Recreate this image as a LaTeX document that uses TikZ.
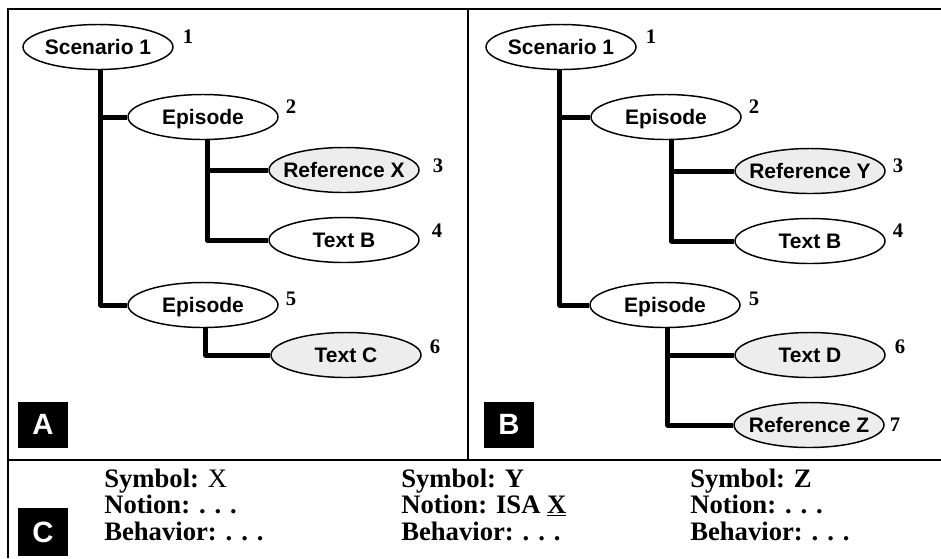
\documentclass[tikz,border=0pt]{standalone}
\usepackage{fontspec}
\setmainfont{Liberation Serif}
\setsansfont{Liberation Sans}
\usetikzlibrary{shapes.geometric}
\newdimen\pxu \pxu=0.75pt
% text of an ellipse node: zero width, so the ellipse keeps its fixed size
\newcommand\elltext[1]{\makebox[0pt]{#1}}
\tikzset{
  ell/.style={ellipse, draw, line width=1.1pt, fill=white,
    minimum width=150\pxu, minimum height=45\pxu, inner sep=0pt,
    font=\sffamily\bfseries\fontsize{15.75}{18}\selectfont,
    text height=11.3pt, text depth=0pt},
  grey/.style={fill=gray!14},
  num/.style={font=\bfseries\fontsize{15.5}{17}\selectfont, inner sep=0pt},
  conn/.style={line width=3.75pt, line join=round},
  frame/.style={line width=1.5pt},
  tag/.style={fill=black, text=white, inner sep=0pt,
    font=\sffamily\bfseries\fontsize{22}{22}\selectfont,
    minimum width=50\pxu, minimum height=46\pxu},
  info/.style={anchor=base west, inner sep=0pt,
    font=\bfseries\fontsize{20}{20}\selectfont},
}
\begin{document}
\begin{tikzpicture}[x=0.75pt, y=-0.75pt]
\useasboundingbox (0,0) rectangle (941,558);

% frame and dividers
\draw[frame] (8,558) -- (8,9) -- (941,9);
\draw[frame] (8,460) -- (941,460);
\draw[frame] (468,9) -- (468,460);

% ---- panel A ----
\node[ell] (a1) at (98,47) {\elltext{Scenario 1}};
\node[ell] (a2) at (203,117) {\elltext{Episode}};
\node[ell,grey] (a3) at (344,170) {\elltext{Reference X}};
\node[ell] (a4) at (344,240) {\elltext{Text B}};
\node[ell] (a5) at (203,305) {\elltext{Episode}};
\node[ell,grey] (a6) at (346,355) {\elltext{Text C}};

\draw[conn] ([xshift=2]a1.south) |- (a5.west);
\draw[conn] ([xshift=2]a1.south |- a2.west) -- (a2.west);
\draw[conn] ([xshift=3]a2.south) |- (a4.west);
\draw[conn] ([xshift=3]a2.south |- a3.west) -- (a3.west);
\draw[conn] ([xshift=2]a5.south) |- (a6.west);

\node[num] (na1) at (188,37) {1};
\node[num] (na2) at (291,107) {2};
\node[num] (na3) at (438,166) {3};
\node[num] (na4) at (437,231) {4};
\node[num] (na5) at (291,299) {5};
\node[num] (na6) at (435,347) {6};

\node[tag] (ta) at (43,424.5) {A};

% ---- panel B ----
\node[ell] (b1) at (561,47) {\elltext{Scenario 1}};
\node[ell] (b2) at (666,117) {\elltext{Episode}};
\node[ell,grey] (b3) at (810,171) {\elltext{Reference Y}};
\node[ell] (b4) at (810,241) {\elltext{Text B}};
\node[ell] (b5) at (665,305) {\elltext{Episode}};
\node[ell,grey] (b6) at (810,355) {\elltext{Text D}};
\node[ell,grey] (b7) at (809,425) {\elltext{Reference Z}};

\draw[conn] ([xshift=-1]b1.south) |- (b5.west);
\draw[conn] ([xshift=-1]b1.south |- b2.west) -- (b2.west);
\draw[conn] ([xshift=4]b2.south) |- (b4.west);
\draw[conn] ([xshift=4]b2.south |- b3.west) -- (b3.west);
\draw[conn] ([xshift=2]b5.south) |- (b7.west);
\draw[conn] ([xshift=2]b5.south |- b6.west) -- (b6.west);

\node[num] (nb1) at (651,37) {1};
\node[num] (nb2) at (754,107) {2};
\node[num] (nb3) at (898,166) {3};
\node[num] (nb4) at (898,231) {4};
\node[num] (nb5) at (754,299) {5};
\node[num] (nb6) at (900,347) {6};
\node[num] (nb7) at (895,425) {7};

\node[tag] (tb) at (509,424.5) {B};

% ---- panel C ----
\node[tag, minimum height=48\pxu] (tc) at (43,532) {C};

\node[info] (s1) at (104,487) {Symbol: \textmd{X}};
\node[info] (o1) at (104,513.5) {Notion: . . .};
\node[info] (h1) at (104,540) {Behavior: . . .};

\node[info] (s2) at (401,487) {Symbol: Y};
\node[info] (o2) at (401,513.5) {Notion: ISA \underline{X}};
\node[info] (h2) at (401,540) {Behavior: . . .};

\node[info] (s3) at (690,487) {Symbol: Z};
\node[info] (o3) at (690,513.5) {Notion: . . .};
\node[info] (h3) at (690,540) {Behavior: . . .};
\end{tikzpicture}
\end{document}
